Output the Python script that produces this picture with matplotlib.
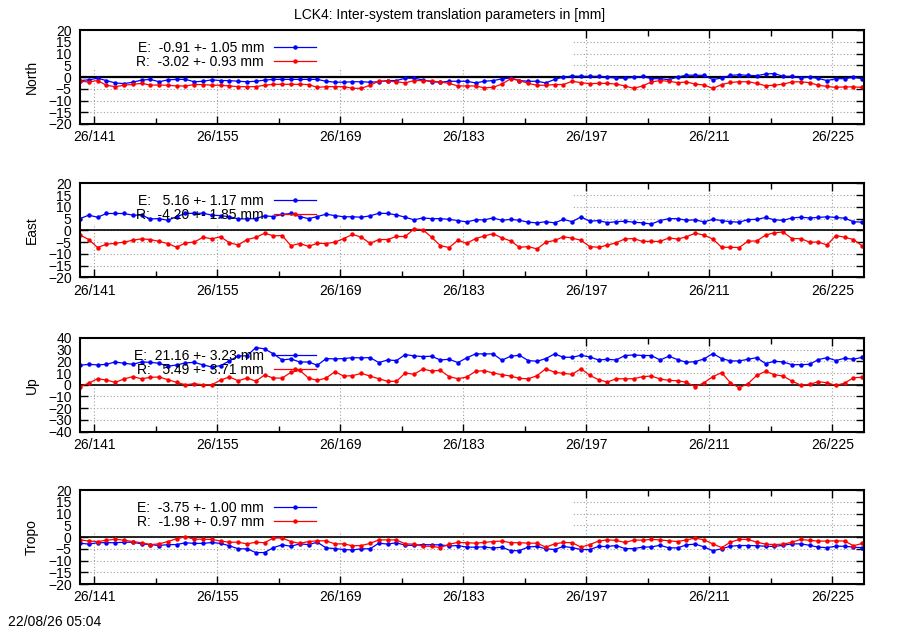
import numpy as np
import matplotlib
matplotlib.use('Agg')
import matplotlib.pyplot as plt
from matplotlib.patches import Rectangle

plt.rcParams['font.family'] = ['Liberation Sans', 'DejaVu Sans']
plt.rcParams['font.size'] = 10

# day of year (2026), one solution per day
first_day = 139.4
n_days = 90
days = first_day + np.arange(n_days)

tick_days = [141, 155, 169, 183, 197, 211, 225]
tick_labels = ['26/141', '26/155', '26/169', '26/183', '26/197', '26/211', '26/225']
minor_days = [148, 162, 176, 190, 204, 218]

north_E = [-1.5, -1.2, -0.5, -1.5, -2.5, -2.8, -2.2, -1.3, -1.0, -2.0,
           -1.2, -1.0, -1.0, -2.0, -1.8, -1.2, -1.5, -1.5, -1.8, -2.0,
           -1.8, -1.3, -1.0, -1.0, -1.0, -1.0, -1.0, -1.0, -1.8, -2.2,
           -2.2, -2.0, -2.0, -2.2, -2.0, -1.5, -1.5, -0.5, -0.5, -1.2,
           -2.0, -2.2, -1.8, -1.8, -1.8, -2.5, -1.8, -1.5, -0.8, -0.4,
           -1.5, -1.8, -1.8, -2.5, -1.0, 0.0, 0.4, 0.3, 0.3, 0.3,
           -0.1, -0.4, -0.5, -0.1, 0.3, -0.7, -0.7, -1.1, 0.0, 0.8,
           0.8, 0.7, -1.1, -0.4, 0.7, 1.0, 0.7, 0.6, 1.3, 1.5,
           0.3, 0.3, -0.4, 0.0, -0.6, -1.5, -0.7, -0.7, -0.1, -0.7]
north_R = [-1.8, -2.1, -1.5, -3.5, -4.1, -3.5, -3.1, -2.7, -3.4, -3.4,
           -3.5, -3.8, -3.8, -3.2, -3.2, -3.5, -3.5, -3.8, -4.1, -4.1,
           -4.1, -3.5, -3.1, -3.1, -3.1, -3.1, -3.2, -4.4, -4.1, -4.1,
           -4.1, -4.8, -4.8, -3.5, -1.7, -1.8, -2.0, -2.5, -1.5, -1.5,
           -1.7, -2.1, -2.7, -3.8, -3.8, -3.8, -4.6, -4.4, -3.0, -0.7,
           -1.5, -2.7, -3.5, -3.5, -3.2, -3.2, -1.8, -2.4, -2.8, -2.7,
           -2.7, -3.0, -3.8, -4.8, -3.8, -2.1, -1.5, -1.8, -2.4, -2.1,
           -3.0, -3.4, -4.8, -3.2, -2.3, -2.0, -2.0, -2.7, -3.7, -3.5,
           -3.0, -2.1, -2.0, -2.4, -3.5, -4.0, -4.4, -4.2, -4.2, -4.4]

east_E = [5.0, 6.5, 5.6, 7.2, 7.2, 7.2, 6.5, 6.5, 4.9, 5.0,
          4.3, 5.9, 7.2, 7.3, 7.3, 6.5, 6.3, 5.8, 4.9, 4.9,
          5.0, 6.2, 5.9, 6.8, 7.2, 5.9, 5.0, 5.9, 6.9, 6.3,
          5.8, 5.8, 5.6, 6.2, 7.3, 7.2, 6.6, 5.6, 4.5, 5.3,
          5.0, 5.0, 4.7, 4.2, 3.6, 4.5, 4.5, 5.3, 4.3, 4.7,
          4.3, 3.5, 3.2, 3.7, 3.2, 4.7, 3.7, 5.8, 3.9, 4.2,
          3.3, 3.7, 3.9, 3.5, 3.2, 2.7, 4.2, 5.0, 5.0, 4.3,
          4.5, 3.6, 4.7, 4.2, 3.7, 3.5, 4.6, 4.7, 5.5, 4.5,
          4.3, 5.3, 5.6, 5.3, 5.5, 5.8, 5.5, 5.2, 3.7, 3.5]
east_R = [-2.0, -3.9, -7.3, -5.9, -5.5, -5.0, -4.2, -3.6, -3.9, -4.7,
          -5.6, -7.2, -5.3, -5.0, -2.9, -3.6, -2.7, -5.3, -6.2, -3.9,
          -3.0, -1.2, -2.3, -2.2, -6.5, -5.6, -6.8, -5.5, -5.6, -5.0,
          -3.5, -1.7, -2.9, -5.5, -3.9, -3.9, -2.6, -2.6, 0.6, 0.3,
          -2.9, -6.5, -7.3, -4.2, -5.5, -3.5, -2.4, -1.4, -3.2, -4.5,
          -7.2, -6.9, -7.9, -5.0, -4.3, -2.7, -3.3, -4.2, -6.9, -7.2,
          -6.3, -5.3, -3.6, -3.5, -4.7, -4.7, -4.7, -3.2, -3.7, -2.7,
          -1.2, -2.0, -3.7, -7.2, -7.2, -7.3, -4.6, -4.5, -2.0, -1.0,
          -0.7, -3.5, -3.5, -5.0, -5.0, -6.2, -2.2, -2.9, -3.9, -6.6]

up_E = [16.6, 17.4, 16.9, 17.4, 19.4, 18.3, 17.4, 19.4, 19.1, 18.3,
        15.7, 16.9, 18.6, 19.1, 16.9, 15.1, 16.3, 20.3, 24.6, 24.6,
        31.7, 30.6, 26.3, 21.1, 22.0, 19.4, 19.4, 16.6, 22.3, 22.0,
        22.3, 23.1, 22.9, 23.1, 18.9, 21.1, 20.6, 25.7, 24.6, 24.0,
        24.3, 21.1, 21.7, 18.9, 22.9, 26.3, 26.3, 26.3, 20.9, 24.3,
        25.1, 20.6, 20.0, 22.3, 26.3, 23.4, 23.4, 25.1, 23.7, 21.1,
        21.7, 21.1, 24.9, 25.4, 24.9, 24.9, 21.1, 24.3, 21.4, 19.1,
        19.7, 22.0, 26.6, 22.3, 20.3, 20.3, 21.7, 23.1, 18.0, 20.0,
        19.4, 17.1, 17.1, 17.4, 21.4, 23.1, 20.6, 22.6, 21.7, 23.4]
up_R = [-1.7, 1.4, 5.1, 4.0, 2.0, 4.9, 6.9, 5.1, 6.3, 6.6,
        4.3, 2.0, 0.0, 0.9, 0.0, 0.0, 4.0, 6.6, 3.4, 5.7,
        3.1, 8.3, 5.7, 5.7, 10.6, 12.3, 5.7, 3.7, 5.7, 11.1,
        7.4, 7.7, 9.7, 7.4, 5.1, 2.9, 2.9, 10.0, 8.9, 13.4,
        11.7, 12.3, 6.9, 5.1, 6.6, 11.4, 12.0, 10.0, 8.6, 7.4,
        5.4, 5.1, 7.7, 13.7, 10.6, 9.7, 8.9, 13.7, 8.0, 4.3,
        2.3, 5.1, 5.1, 5.1, 6.9, 7.4, 4.9, 3.7, 3.4, 2.0,
        -1.7, 1.7, 6.9, 10.3, 1.7, -2.6, 0.9, 8.0, 11.4, 8.6,
        7.4, 3.1, -0.3, 0.3, 2.6, 1.7, -0.6, 1.4, 6.0, 6.3]

tropo_E = [-2.6, -3.0, -2.4, -2.4, -2.4, -2.2, -2.2, -2.9, -3.2, -3.6,
           -3.2, -3.2, -2.4, -2.7, -2.7, -2.3, -2.7, -3.7, -5.0, -5.0,
           -6.6, -6.6, -4.5, -3.3, -3.9, -2.9, -3.2, -2.2, -4.6, -4.9,
           -5.3, -5.5, -5.0, -5.0, -2.6, -3.0, -2.4, -3.5, -3.5, -3.2,
           -3.3, -3.3, -3.8, -3.6, -4.3, -4.3, -4.2, -4.7, -4.3, -5.8,
           -5.8, -4.2, -4.0, -5.0, -5.3, -4.0, -4.5, -5.3, -5.3, -4.0,
           -4.0, -3.6, -4.9, -4.9, -4.3, -4.2, -3.5, -4.6, -4.6, -3.3,
           -3.0, -4.2, -5.8, -5.0, -3.9, -3.6, -3.6, -3.7, -3.9, -4.0,
           -3.5, -2.9, -2.9, -3.5, -4.3, -4.5, -3.9, -3.9, -4.3, -4.5]
tropo_R = [-1.2, -1.7, -1.9, -1.4, -0.9, -1.3, -1.9, -2.4, -3.2, -2.9,
           -1.9, -0.7, 0.1, -0.9, -0.9, -1.0, -1.7, -2.2, -2.2, -2.9,
           -2.2, -2.4, -0.4, -0.4, -1.9, -2.7, -1.9, -1.6, -1.6, -2.9,
           -2.9, -3.7, -3.6, -2.7, -1.2, -1.2, -1.2, -2.9, -3.0, -3.9,
           -3.9, -4.5, -3.0, -2.3, -2.4, -2.6, -2.3, -1.9, -1.7, -2.4,
           -2.4, -2.6, -2.6, -4.3, -2.9, -2.3, -2.4, -4.3, -3.2, -1.7,
           -1.2, -1.4, -2.3, -1.3, -1.3, -1.0, -1.2, -1.6, -1.9, -1.2,
           -0.4, -1.2, -2.9, -4.5, -2.2, -1.0, -1.0, -2.2, -3.0, -3.2,
           -3.0, -2.2, -1.0, -1.4, -1.7, -1.7, -1.6, -1.7, -3.7, -2.7]

panel_names = ['North', 'East', 'Up', 'Tropo']
series_E = [north_E, east_E, up_E, tropo_E]
series_R = [north_R, east_R, up_R, tropo_R]
labels_E = ['E:  -0.91 +- 1.05 mm', 'E:   5.16 +- 1.17 mm', 'E:  21.16 +- 3.23 mm', 'E:  -3.75 +- 1.00 mm']
labels_R = ['R:  -3.02 +- 0.93 mm', 'R:  -4.20 +- 1.85 mm', 'R:   5.49 +- 3.71 mm', 'R:  -1.98 +- 0.97 mm']
y_limits = [20, 20, 40, 20]
y_steps = [5, 5, 10, 5]

title = 'LCK4: Inter-system translation parameters in [mm]'
stamp = '22/08/26 05:04'

fig = plt.figure(figsize=(9, 6.3), dpi=100)
bottoms = [0.8032, 0.5598, 0.3148, 0.0730]

for i in range(4):
    ax = fig.add_axes([0.0889, bottoms[i], 0.8711, 0.149])
    lim = y_limits[i]
    ax.set_xlim(139.4, 228.6)
    ax.set_ylim(-lim, lim)
    ax.set_xticks(tick_days, tick_labels)
    ax.set_xticks(minor_days, minor=True)
    ax.set_yticks(np.arange(-lim, lim + 1, y_steps[i]))
    ax.tick_params(which='both', direction='in', top=True, right=True, width=1)
    ax.tick_params(axis='x', which='major', length=6, pad=4.5, labelsize=10)
    ax.tick_params(axis='x', which='minor', length=4)
    ax.tick_params(axis='y', length=6, pad=6, labelsize=10)
    for s in ax.spines.values():
        s.set_linewidth(1.5)
    ax.set_axisbelow(True)
    ax.grid(True, which='major', color='#a0a0a0', linestyle=(0, (1, 2)), linewidth=0.8)
    # key area hides the grid
    ax.add_patch(Rectangle((0, 0.57), 0.629, 0.43, transform=ax.transAxes,
                           facecolor='white', edgecolor='none', zorder=0.8))
    ax.axhline(0, color='black', lw=1.6 if i == 0 else 1.2, zorder=1.5)
    ax.plot(days, series_E[i], color='#0000ff', lw=0.9, marker='o', ms=3.2, mew=0, label=labels_E[i])
    ax.plot(days, series_R[i], color='#ff0000', lw=0.9, marker='o', ms=3.2, mew=0, label=labels_R[i])
    leg = ax.legend(loc='upper right', bbox_to_anchor=(0.310, 0.96), markerfirst=False,
                    frameon=False, handlelength=3.0, handletextpad=0.75, borderpad=0,
                    labelspacing=0.0, numpoints=1, fontsize=10)
    fig.text(32 / 900, bottoms[i] + 0.149 / 2, panel_names[i], rotation=90,
             ha='center', va='center', fontsize=10)

fig.text(0.5, 1 - 15 / 630, title, ha='center', va='center', fontsize=10)
fig.text(8 / 900, 1 - 622 / 630, stamp, ha='left', va='center', fontsize=10)

fig.savefig('out.png', dpi=100)
